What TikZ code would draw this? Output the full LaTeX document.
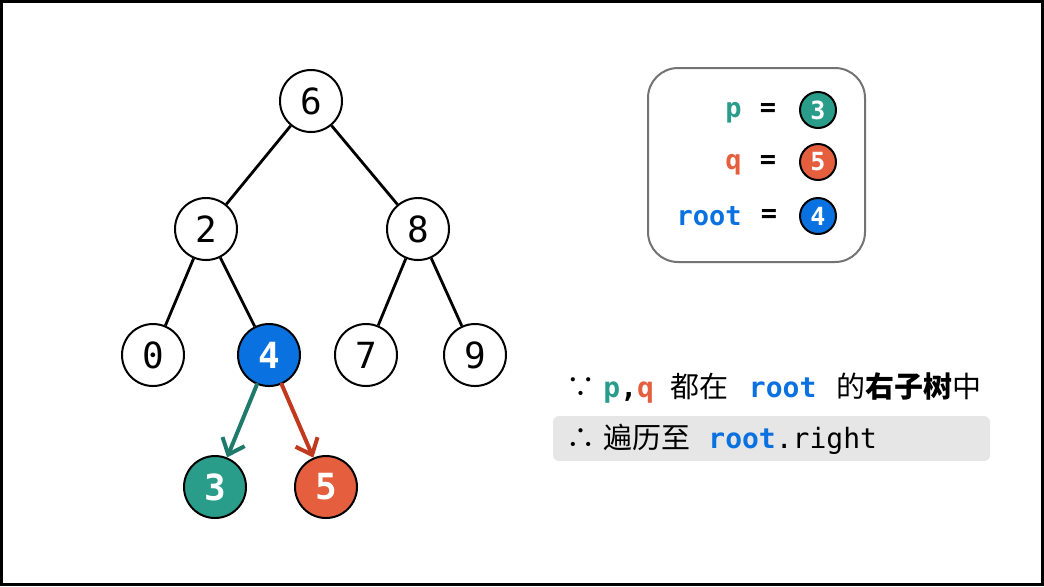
\documentclass[tikz,border=0pt]{standalone}
\usepackage{fontspec}
\setmonofont{DejaVu Sans Mono}
\newfontfamily\cjk{Noto Sans CJK SC}
\usetikzlibrary{arrows.meta,positioning}

\definecolor{pcol}{HTML}{2A9D8A}
\definecolor{qcol}{HTML}{E55F3F}
\definecolor{rcol}{HTML}{0A72E0}
\definecolor{parr}{HTML}{1F7A6B}
\definecolor{qarr}{HTML}{C23A1E}
\definecolor{boxgray}{HTML}{E6E6E6}

\begin{document}
\begin{tikzpicture}[
    x=0.5pt, y=-0.5pt,
    % tree nodes
    tnode/.style={circle, draw, line width=1pt, minimum size=31pt, inner sep=0pt,
                  fill=white, font=\ttfamily\fontsize{18}{18}\selectfont},
    pnode/.style={tnode, fill=pcol, text=white, font=\ttfamily\bfseries\fontsize{18}{18}\selectfont},
    qnode/.style={pnode, fill=qcol},
    rnode/.style={pnode, fill=rcol},
    % legend markers
    lmark/.style={circle, draw, line width=1pt, minimum size=18pt, inner sep=0pt,
                  text=white, font=\ttfamily\bfseries\fontsize{12.5}{12.5}\selectfont},
    lname/.style={anchor=base east, inner sep=0pt, font=\ttfamily\bfseries\fontsize{13.5}{13.5}\selectfont},
    tedge/.style={line width=1.4pt},
    parrow/.style={-{Straight Barb[length=7pt,width=12pt]}, line width=2pt, line cap=round},
    legbox/.style={draw=black!55, line width=1pt, rounded corners=15pt,
                   minimum width=217*0.5pt, minimum height=194*0.5pt},
    notebox/.style={fill=boxgray, rounded corners=3pt,
                    minimum width=437*0.5pt, minimum height=45*0.5pt},
    note/.style={anchor=base west, inner sep=0pt, font=\cjk\fontsize{14.5}{14.5}\selectfont},
]
\useasboundingbox (0,0) rectangle (1044,586);
\draw[line width=1.5pt] (1.5,1.5) rectangle (1042.5,584.5);

% -------------------------
% Binary search tree
% -------------------------
\node[tnode] (n6) at (311,101) {6};
\node[tnode] (n2) at (206,229) {2};
\node[tnode] (n8) at (418,229) {8};
\node[tnode] (n0) at (153,355) {0};
\node[rnode] (n4) at (269,355) {4};
\node[tnode] (n7) at (366,355) {7};
\node[tnode] (n9) at (475,355) {9};
\node[pnode] (n3) at (215,487) {3};
\node[qnode] (n5) at (326,487) {5};

\foreach \a/\b in {n6/n2, n6/n8, n2/n0, n2/n4, n8/n7, n8/n9}{
  \draw[tedge] (\a) -- (\b);
}

\draw[parrow, draw=parr] (n4) -- (n3);
\draw[parrow, draw=qarr] (n4) -- (n5);

% -------------------------
% Legend
% -------------------------
\node[legbox] (leg) at (756.5,165) {};

\node[lmark, fill=pcol] (mp) at (818,110) {3};
\node[lmark, fill=qcol] (mq) at (818,162) {5};
\node[lmark, fill=rcol] (mr) at (818,216) {4};

\node[lname, text=pcol] (lp) at (742,117) {p};
\node[lname, text=qcol] (lq) at (742,169) {q};
\node[lname, text=rcol] (lr) at (742,225) {root};

\node[lname, anchor=center] (ep) at (768,110) {=};
\node[lname, anchor=center] (eq) at (768,162) {=};
\node[lname, anchor=center] (er) at (769,216) {=};

% -------------------------
% Conclusion
% -------------------------
\node[notebox] (nb) at (771.5,438.5) {};

\node[note] (l1) at (566,397) {∵\hspace{4pt}{\ttfamily\bfseries\fontsize{14}{14}\selectfont
  \textcolor{pcol}{p},\textcolor{qcol}{q}}\hspace{8.5pt}都在\hspace{10pt}{\ttfamily\bfseries\fontsize{14}{14}\selectfont\textcolor{rcol}{root}}\hspace{10pt}的\textbf{右子树}中};
\node[note] (l2) at (566,448) {∴\hspace{4pt}遍历至\hspace{9pt}{\ttfamily\fontsize{14}{14}\selectfont
  \textcolor{rcol}{\bfseries root}.right}};

\end{tikzpicture}
\end{document}
